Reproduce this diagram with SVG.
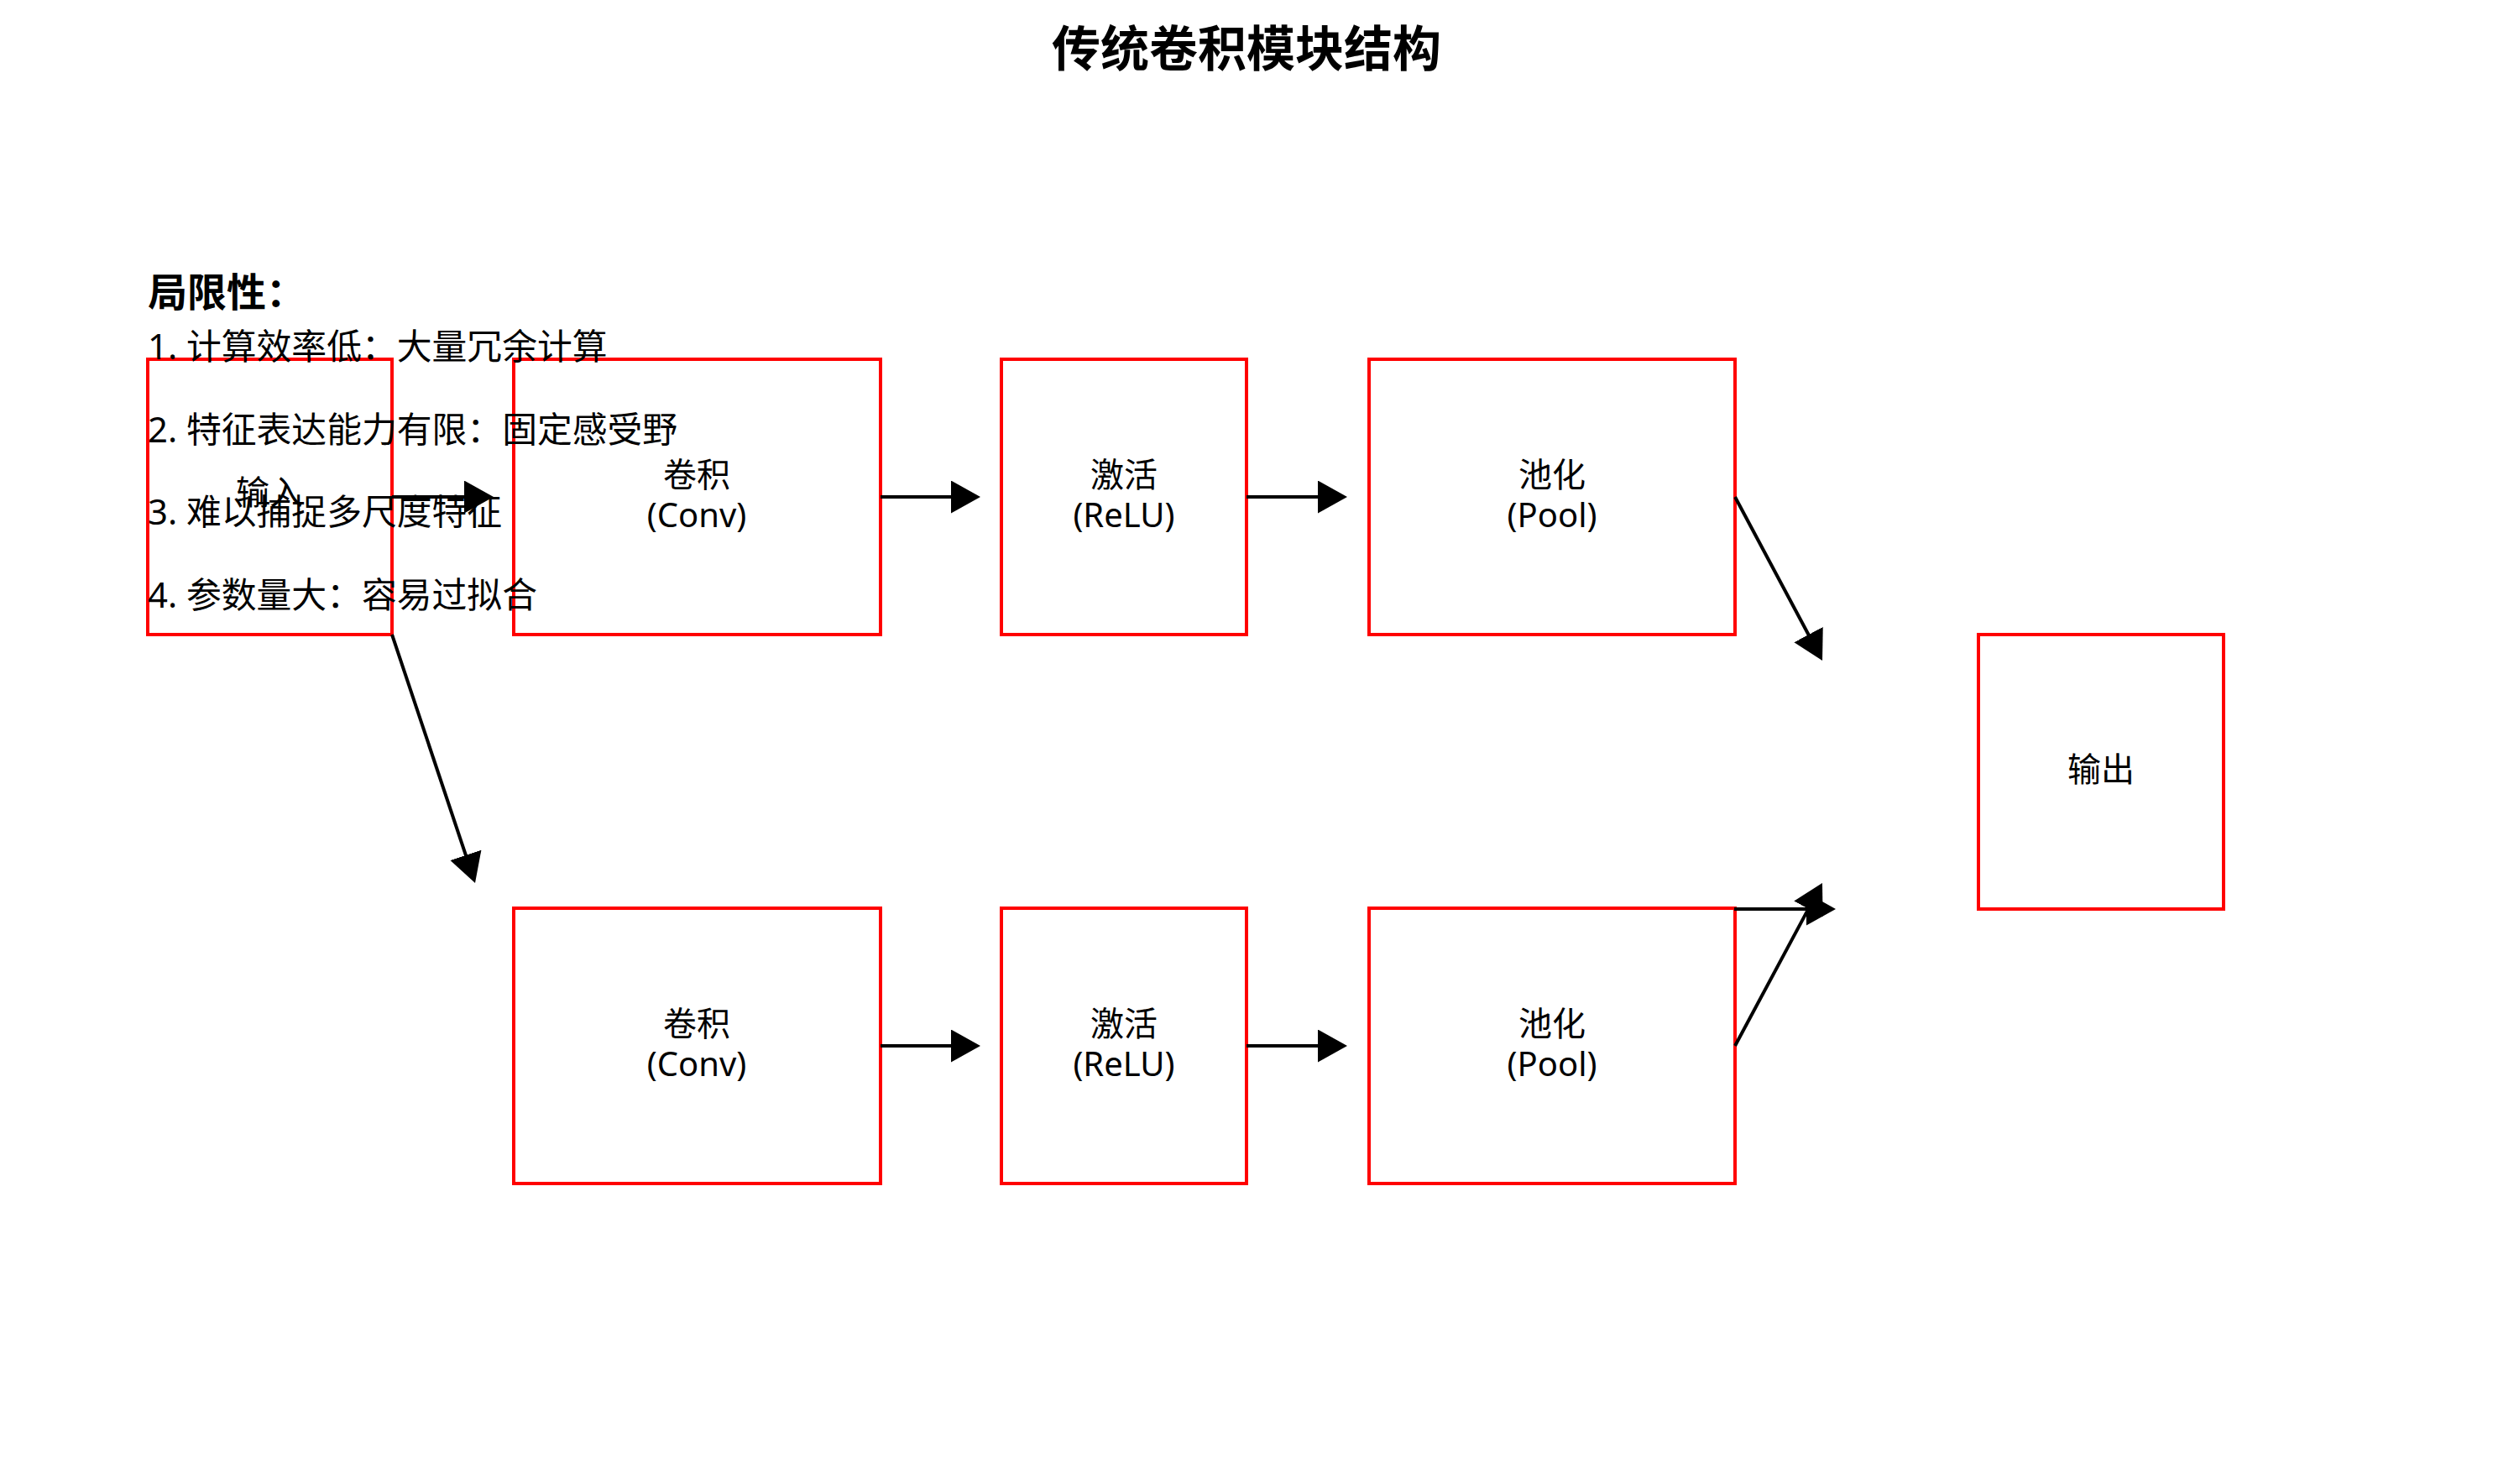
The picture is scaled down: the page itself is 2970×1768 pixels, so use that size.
<svg xmlns="http://www.w3.org/2000/svg" width="2970" height="1768" viewBox="0 0 2970 1768">
<style>
text{font-family:"Noto Sans","Noto Sans CJK SC",sans-serif;fill:#000}
.box{fill:#fff;stroke:#ff0000;stroke-width:4}
.lbl{font-size:40px;text-anchor:middle}
.edge{stroke:#000;stroke-width:4;fill:none}
.title{font-size:58px;font-weight:bold;text-anchor:middle}
.hd{font-size:47px;font-weight:bold}
.li{font-size:41.8px}
</style>
<defs>
<marker id="ah" markerUnits="userSpaceOnUse" markerWidth="36" markerHeight="40" refX="5" refY="19.5" orient="auto" viewBox="0 0 36 40">
<path d="M0,0 L35,19.5 L0,39 z" fill="#000"/>
</marker>
</defs>
<rect width="2970" height="1768" fill="#fff"/>
<text class="title" x="1485" y="79">传统卷积模块结构</text>
<g id="input"><rect class="box" x="176" y="428" width="291" height="328"/><text class="lbl" x="321" y="601">输入</text></g>
<g id="conv1"><rect class="box" x="612" y="428" width="437" height="328"/><text class="lbl"><tspan x="830" y="580">卷积</tspan><tspan x="830" y="628">(Conv)</tspan></text></g>
<g id="relu1"><rect class="box" x="1193" y="428" width="292" height="328"/><text class="lbl"><tspan x="1339" y="580">激活</tspan><tspan x="1339" y="628">(ReLU)</tspan></text></g>
<g id="pool1"><rect class="box" x="1631" y="428" width="436" height="328"/><text class="lbl"><tspan x="1849" y="580">池化</tspan><tspan x="1849" y="628">(Pool)</tspan></text></g>
<g id="conv2"><rect class="box" x="612" y="1082" width="437" height="328"/><text class="lbl"><tspan x="830" y="1234">卷积</tspan><tspan x="830" y="1282">(Conv)</tspan></text></g>
<g id="relu2"><rect class="box" x="1193" y="1082" width="292" height="328"/><text class="lbl"><tspan x="1339" y="1234">激活</tspan><tspan x="1339" y="1282">(ReLU)</tspan></text></g>
<g id="pool2"><rect class="box" x="1631" y="1082" width="436" height="328"/><text class="lbl"><tspan x="1849" y="1234">池化</tspan><tspan x="1849" y="1282">(Pool)</tspan></text></g>
<g id="output"><rect class="box" x="2357" y="756" width="292" height="327"/><text class="lbl" x="2503" y="931">输出</text></g>
<g id="connectors">
<line class="edge" marker-end="url(#ah)" x1="467" y1="592" x2="558" y2="592"/>
<line class="edge" marker-end="url(#ah)" x1="1049" y1="592" x2="1138" y2="592"/>
<line class="edge" marker-end="url(#ah)" x1="1485" y1="592" x2="1575" y2="592"/>
<line class="edge" marker-end="url(#ah)" x1="1049" y1="1246" x2="1138" y2="1246"/>
<line class="edge" marker-end="url(#ah)" x1="1485" y1="1246" x2="1575" y2="1246"/>
<line class="edge" marker-end="url(#ah)" x1="467" y1="756" x2="556.5" y2="1023.6"/>
<line class="edge" marker-end="url(#ah)" x1="2067" y1="592" x2="2156.9" y2="760.5"/>
<line class="edge" marker-end="url(#ah)" x1="2067" y1="1246" x2="2156.8" y2="1078.4"/>
<line class="edge" marker-end="url(#ah)" x1="2066" y1="1083" x2="2157" y2="1083"/>
</g>
<g id="limitations">
<text class="hd" x="176" y="365">局限性：</text>
<text class="li" x="176" y="428">1. 计算效率低：大量冗余计算</text>
<text class="li" x="176" y="527">2. 特征表达能力有限：固定感受野</text>
<text class="li" x="176" y="625">3. 难以捕捉多尺度特征</text>
<text class="li" x="176" y="724">4. 参数量大：容易过拟合</text>
</g>
</svg>
